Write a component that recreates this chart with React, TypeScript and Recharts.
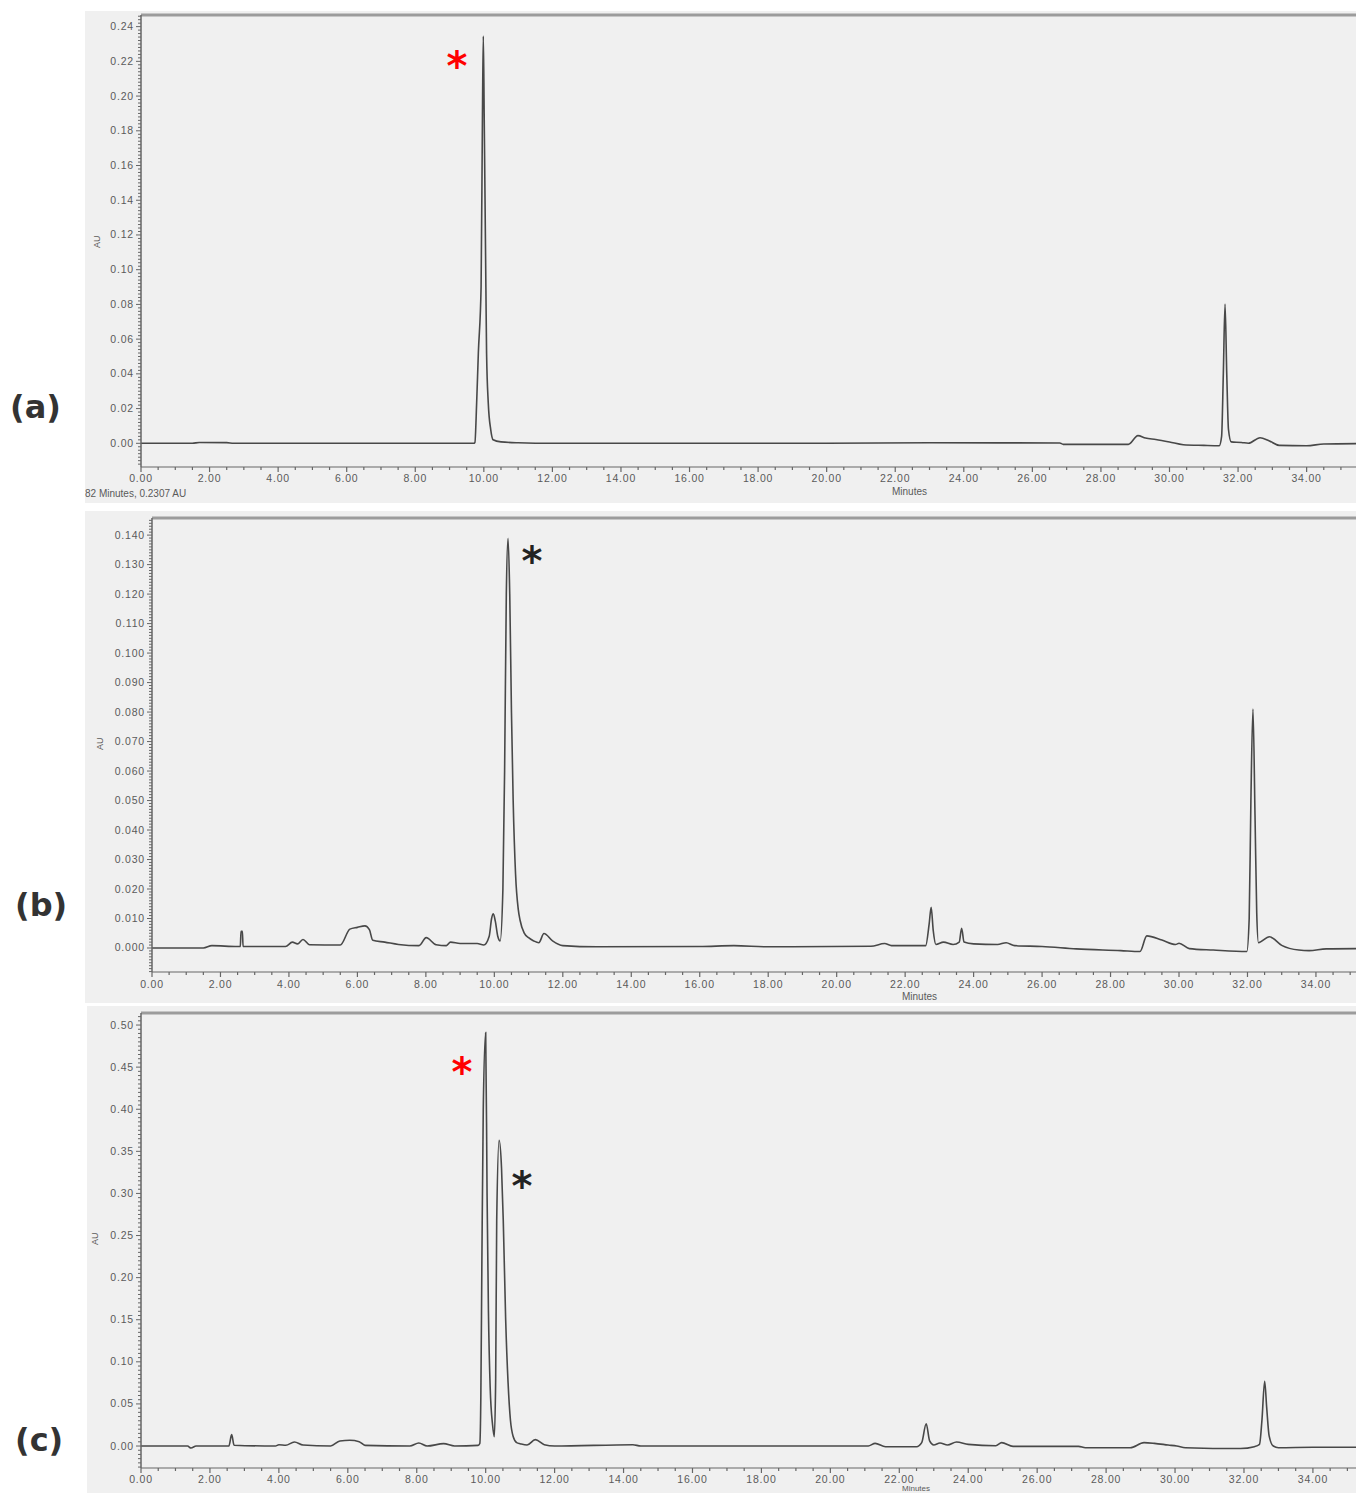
import React from 'react';
import { LineChart, Line, XAxis, YAxis, ReferenceLine } from 'recharts';

// chromatograms: [minutes, AU]
const traceA: [number, number][] = [
  [0, 0], [1.5, 0], [1.7, 0.0005], [2.5, 0.0004], [2.7, 0], [9.7, 0],
  [9.74, 0.0005], [9.79, 0.023], [9.84, 0.052], [9.92, 0.09], [9.96, 0.19],
  [9.985, 0.2346], [10.01, 0.19], [10.06, 0.09], [10.08, 0.052], [10.13, 0.023],
  [10.2, 0.008], [10.27, 0.002], [10.5, 0.0008], [11, 0.0003], [12, 0], [20, 0],
  [23, 0.0003], [26.8, 0.0002], [26.9, -0.0006], [28.8, -0.0006], [29.08, 0.0044],
  [29.3, 0.003], [29.6, 0.0022], [30.0, 0.0008], [30.4, -0.0008], [31.0, -0.0012],
  [31.45, -0.0014], [31.52, 0.004], [31.57, 0.04], [31.62, 0.0802], [31.67, 0.04],
  [31.72, 0.008], [31.8, 0.0008], [32.1, 0.0005], [32.3, 0], [32.64, 0.0032],
  [32.9, 0.0015], [33.2, -0.0012], [34.0, -0.0014], [34.5, -0.0004], [35.5, -0.0002],
];

const traceB: [number, number][] = [
  [0, 0], [1.5, 0], [1.75, 0.0008], [2.5, 0.0005], [2.58, 0.0005], [2.6, 0.0057],
  [2.64, 0.0057], [2.66, 0.0005], [3.9, 0.0005], [4.1, 0.002], [4.25, 0.0014],
  [4.41, 0.0029], [4.6, 0.0011], [5.5, 0.001], [5.78, 0.0064], [6.0, 0.007],
  [6.22, 0.0075], [6.35, 0.0062], [6.45, 0.0026], [6.8, 0.002], [7.2, 0.0012],
  [7.8, 0.0008], [8.01, 0.0035], [8.3, 0.0011], [8.6, 0.0008], [8.72, 0.002],
  [9.0, 0.0015], [9.5, 0.0015], [9.69, 0.001], [9.85, 0.004], [9.92, 0.01],
  [9.97, 0.0116], [10.03, 0.009], [10.1, 0.004], [10.17, 0.0024], [10.25, 0.02],
  [10.3, 0.06], [10.35, 0.12], [10.4, 0.1389], [10.45, 0.12], [10.5, 0.08],
  [10.55, 0.05], [10.62, 0.025], [10.7, 0.013], [10.75, 0.0095], [10.87, 0.0051],
  [11.0, 0.0035], [11.15, 0.0024], [11.3, 0.0018], [11.45, 0.0049], [11.7, 0.0024],
  [12.0, 0.0008], [13.0, 0.0004], [16.0, 0.0005], [17.0, 0.0008], [18.0, 0.0004],
  [21.0, 0.0006], [21.4, 0.0015], [21.6, 0.0008], [22.6, 0.0008], [22.7, 0.008],
  [22.76, 0.0138], [22.82, 0.006], [22.9, 0.0012], [23.12, 0.002], [23.4, 0.0012],
  [23.58, 0.002], [23.65, 0.0067], [23.72, 0.002], [24.0, 0.0014], [24.7, 0.0012],
  [24.95, 0.0018], [25.2, 0.0008], [26.0, 0.0005], [27.0, -0.0003], [28.3, -0.0009],
  [28.86, -0.0012], [29.06, 0.0041], [29.5, 0.0027], [29.9, 0.0012], [30.0, 0.0016],
  [30.3, -0.0002], [31.0, -0.0007], [31.98, -0.0012], [32.05, 0.01], [32.1, 0.05],
  [32.16, 0.081], [32.22, 0.045], [32.27, 0.012], [32.32, 0.0018], [32.64, 0.0038],
  [33.0, 0.0009], [33.5, -0.0007], [33.8, -0.0009], [34.3, -0.0003], [35.2, -0.0002],
];

const traceC: [number, number][] = [
  [0, 0], [1.35, 0], [1.45, -0.0024], [1.6, 0], [2.55, 0], [2.63, 0.0136], [2.7, 0.001],
  [3.9, 0], [4.0, 0.0016], [4.2, 0.001], [4.45, 0.0048], [4.7, 0.0012], [5.5, 0],
  [5.77, 0.006], [6.06, 0.0068], [6.33, 0.0052], [6.5, 0.0008], [7.8, 0], [8.06, 0.0036],
  [8.3, 0], [8.78, 0.0028], [9.1, 0], [9.78, 0.0008], [9.83, 0.003], [9.86, 0.06],
  [9.89, 0.22], [9.93, 0.4], [10.0, 0.491], [10.04, 0.3], [10.08, 0.16], [10.13, 0.07],
  [10.2, 0.025], [10.25, 0.011], [10.29, 0.08], [10.32, 0.268], [10.39, 0.363],
  [10.46, 0.33], [10.51, 0.268], [10.58, 0.15], [10.65, 0.075], [10.72, 0.03],
  [10.8, 0.011], [10.9, 0.004], [11.0, 0.0028], [11.2, 0.0012], [11.44, 0.0076],
  [11.7, 0.0016], [12.0, 0], [14.27, 0.0016], [14.5, 0], [21.1, 0], [21.3, 0.0032],
  [21.6, -0.0008], [22.5, -0.0008], [22.65, 0.004], [22.78, 0.0265], [22.88, 0.006],
  [23.0, 0.0012], [23.18, 0.0036], [23.4, 0.0012], [23.66, 0.0048], [24.0, 0.002],
  [24.8, 0.0004], [24.97, 0.004], [25.3, -0.0004], [27.2, -0.0004], [27.4, -0.002],
  [28.7, -0.002], [29.1, 0.004], [29.4, 0.0032], [29.8, 0.0012], [30.05, 0],
  [30.3, -0.002], [31.9, -0.003], [32.3, -0.0008], [32.45, 0.002], [32.52, 0.03],
  [32.6, 0.077], [32.66, 0.045], [32.73, 0.012], [32.85, 0], [33.0, -0.002],
  [34.0, -0.0015], [35.3, -0.0015],
];

const xMajor = [0, 2, 4, 6, 8, 10, 12, 14, 16, 18, 20, 22, 24, 26, 28, 30, 32, 34];
const yMajorA = [0, 0.02, 0.04, 0.06, 0.08, 0.1, 0.12, 0.14, 0.16, 0.18, 0.2, 0.22, 0.24];
const yMajorB = [0, 0.01, 0.02, 0.03, 0.04, 0.05, 0.06, 0.07, 0.08, 0.09, 0.1, 0.11, 0.12, 0.13, 0.14];
const yMajorC = [0, 0.05, 0.1, 0.15, 0.2, 0.25, 0.3, 0.35, 0.4, 0.45, 0.5];

const W = 1356;
const TICK_FONT = '"Liberation Sans", Arial, sans-serif';

// minor tick positions for the axes
const stepTicks = (min: number, max: number, step: number) => {
  const out: number[] = [];
  for (let i = Math.ceil(min / step - 1e-9); i * step <= max + 1e-9; i++) {
    out.push(Math.round(i * step * 1e6) / 1e6);
  }
  return out;
};

const near = (list: number[], v: number) => list.some((m) => Math.abs(m - v) < 1e-7);

const XTick = (props: any) => {
  const { x, y, payload, labelOffset } = props;
  const major = near(xMajor, payload.value);
  return (
    <g>
      <line x1={x} x2={x} y1={y} y2={y + (major ? 5 : 3)} stroke="#666" strokeWidth={1.2} />
      {major && (
        <text x={x} y={y + labelOffset} textAnchor="middle" fontSize={10.5} letterSpacing={0.8}
          fill="#5a5a5a" fontFamily={TICK_FONT}>
          {payload.value.toFixed(2)}
        </text>
      )}
    </g>
  );
};

const YTick = (props: any) => {
  const { x, y, payload, majors, digits } = props;
  const major = near(majors, payload.value);
  return (
    <g>
      <line x1={x - (major ? 5 : 3)} x2={x} y1={y} y2={y} stroke="#666" strokeWidth={1} />
      {major && (
        <text x={x - 7} y={y + 3.5} textAnchor="end" fontSize={10.5} letterSpacing={0.8}
          fill="#5a5a5a" fontFamily={TICK_FONT}>
          {payload.value.toFixed(digits)}
        </text>
      )}
    </g>
  );
};

type PanelProps = {
  trace: [number, number][];
  top: number;
  height: number;
  plotTop: number;
  plotLeft: number;
  plotBottom: number;
  xMax: number;
  yDomain: [number, number];
  yMajor: number[];
  yMinorStep: number;
  digits: number;
  labelOffset: number;
};

const Chromatogram = (p: PanelProps) => {
  const data = p.trace.map(([t, v]) => ({ t, v }));
  const xTicks = stepTicks(0, p.xMax, 0.5);
  const yTicks = stepTicks(p.yDomain[0], p.yDomain[1], p.yMinorStep);
  return (
    <div style={{ position: 'absolute', left: 0, top: p.top, width: W, height: p.height }}>
      <LineChart width={W} height={p.height} data={data}
        margin={{ top: p.plotTop - p.top, right: 0, bottom: 0, left: 0 }}>
        <XAxis dataKey="t" type="number" domain={[0, p.xMax]} allowDataOverflow ticks={xTicks}
          interval={0} height={p.top + p.height - p.plotBottom} tickSize={0} tickMargin={0}
          tickLine={false} axisLine={{ stroke: '#666', strokeWidth: 1.2 }}
          tick={(tp: any) => <XTick {...tp} labelOffset={p.labelOffset} />} />
        <YAxis type="number" domain={p.yDomain} allowDataOverflow ticks={yTicks} interval={0}
          width={p.plotLeft} tickSize={0} tickMargin={0} tickLine={false}
          axisLine={{ stroke: '#666', strokeWidth: 1.5 }}
          tick={(tp: any) => <YTick {...tp} majors={p.yMajor} digits={p.digits} />} />
        <ReferenceLine y={p.yDomain[1]} stroke="#9c9c9c" strokeWidth={3} />
        <Line type="monotone" dataKey="v" stroke="#484848" strokeWidth={1.6} dot={false}
          isAnimationActive={false} />
      </LineChart>
    </div>
  );
};

const small: React.CSSProperties = {
  position: 'absolute', fontFamily: TICK_FONT, fontSize: 10, color: '#5a5a5a', whiteSpace: 'nowrap',
};

const panelLabel = (text: string, left: number, top: number) => (
  <div style={{
    position: 'absolute', left, top, fontFamily: '"DejaVu Sans", sans-serif', fontWeight: 'bold',
    fontSize: 32, color: '#333', lineHeight: '40px',
  }}>{text}</div>
);

const star = (color: string, cx: number, cy: number) => (
  <div style={{
    position: 'absolute', left: cx - 15, top: cy - 14, width: 30, textAlign: 'center',
    fontFamily: '"DejaVu Sans", sans-serif', fontWeight: 'bold', fontSize: 40, lineHeight: '40px',
    color,
  }}>*</div>
);

const auLabel = (left: number, top: number) => (
  <div style={{ ...small, left, top, fontSize: 9, transform: 'rotate(-90deg)', transformOrigin: 'left top' }}>AU</div>
);

export default function App() {
  return (
    <div style={{ position: 'absolute', left: 0, top: 0, width: W, height: 1493, background: '#fff', overflow: 'hidden' }}>
      <div style={{ position: 'absolute', left: 85, top: 11, width: W - 85, height: 492, background: '#f0f0f0' }} />
      <div style={{ position: 'absolute', left: 85, top: 511, width: W - 85, height: 492, background: '#f0f0f0' }} />
      <div style={{ position: 'absolute', left: 87, top: 1006, width: W - 87, height: 487, background: '#f0f0f0' }} />

      <Chromatogram trace={traceA} top={11} height={492} plotTop={15} plotLeft={141} plotBottom={467}
        xMax={35.44} yDomain={[-0.01365, 0.2467]} yMajor={yMajorA} yMinorStep={0.002} digits={2} labelOffset={15} />
      <Chromatogram trace={traceB} top={511} height={492} plotTop={518} plotLeft={152} plotBottom={972}
        xMax={35.17} yDomain={[-0.00814, 0.1458]} yMajor={yMajorB} yMinorStep={0.001} digits={3} labelOffset={16} />
      <Chromatogram trace={traceC} top={1006} height={487} plotTop={1013} plotLeft={141} plotBottom={1468}
        xMax={35.25} yDomain={[-0.0261, 0.5143]} yMajor={yMajorC} yMinorStep={0.005} digits={2} labelOffset={15} />

      <div style={{ ...small, left: 892, top: 486 }}>Minutes</div>
      <div style={{ ...small, left: 902, top: 991 }}>Minutes</div>
      <div style={{ ...small, left: 902, top: 1484, fontSize: 8, lineHeight: '9px' }}>Minutes</div>
      <div style={{ ...small, left: 85, top: 488 }}>82 Minutes, 0.2307 AU</div>

      {auLabel(92, 248)}
      {auLabel(95, 750)}
      {auLabel(90, 1245)}

      {panelLabel('(a)', 10, 387)}
      {panelLabel('(b)', 15, 885)}
      {panelLabel('(c)', 15, 1420)}

      {star('#ff0000', 457, 60)}
      {star('#222', 532, 555)}
      {star('#ff0000', 462, 1066)}
      {star('#222', 522, 1180)}
    </div>
  );
}
